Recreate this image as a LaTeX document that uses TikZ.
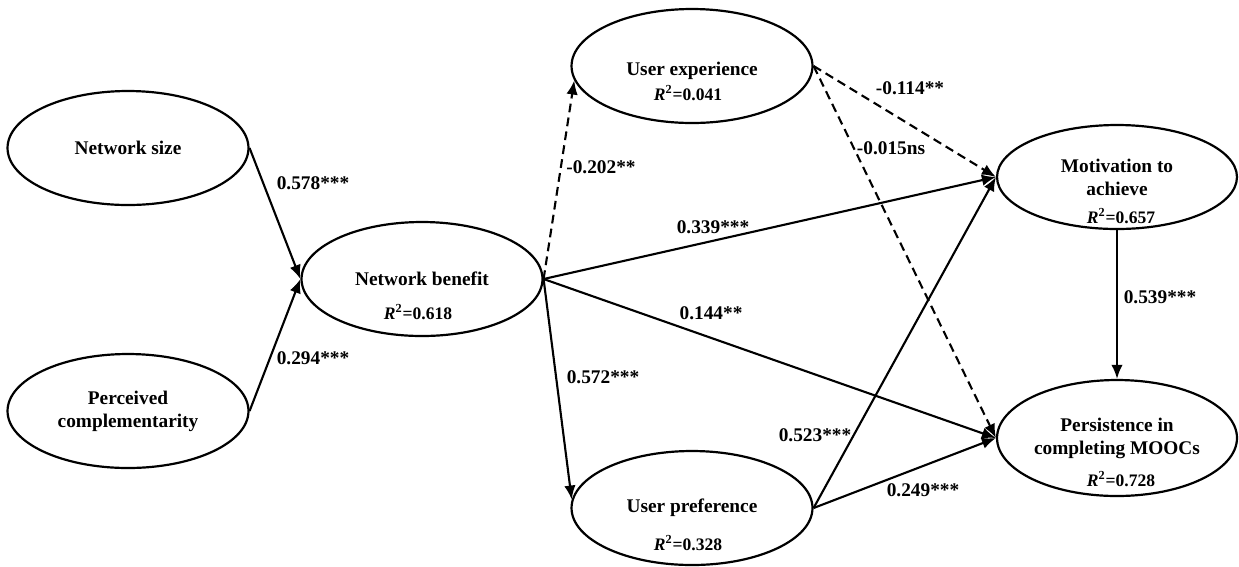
\documentclass[tikz,border=0pt]{standalone}
\usepackage{fontspec}
\setmainfont{Liberation Serif}
\usepackage{tikz}
\usetikzlibrary{shapes}
\usetikzlibrary{arrows.meta}

\newcommand{\rsquare}[1]{\textit{R}\textsuperscript{2}=#1}

\begin{document}
\begin{tikzpicture}[x=0.02cm,y=-0.02cm,
  construct/.style={draw, ellipse, line width=1.25pt, inner sep=0pt,
    minimum width=4.82cm, minimum height=2.28cm, align=center,
    font=\bfseries\fontsize{11}{13}\selectfont},
  rsq/.style={inner sep=0pt, font=\bfseries\fontsize{10}{12}\selectfont},
  coef/.style={inner sep=0pt, font=\bfseries\fontsize{11}{13}\selectfont},
  link/.style={line width=1.2pt, -{Latex[length=8pt,width=6.5pt]}},
  dashlink/.style={link, dash pattern=on 5pt off 3pt}]
\useasboundingbox (0,0) rectangle (1239,566);
% constructs
\node [construct] (size) at (128,148) {Network size};
\node [construct] (compl) at (128,411) {Perceived\\complementarity};
\node [construct] (benefit) at (422,279) {Network benefit};
\node [rsq] (benefit-r) at (418,312) {\rsquare{0.618}};
\node [construct] (exper) at (692,66) {\rule{0pt}{13pt}User experience};
\node [rsq] (exper-r) at (688,93) {\rsquare{0.041}};
\node [construct] (pref) at (692,508) {User preference};
\node [rsq] (pref-r) at (688,543) {\rsquare{0.328}};
\node [construct, minimum width=4.8cm, minimum height=2.08cm] (motiv) at (1117,177)
   {Motivation to\\achieve};
\node [rsq] (motiv-r) at (1121,216) {\rsquare{0.657}};
\node [construct, minimum width=4.8cm, minimum height=2.32cm] (persist) at (1117,438)
   {Persistence in\\completing MOOCs};
\node [rsq] (persist-r) at (1121,479) {\rsquare{0.728}};
% paths
\draw [link] (size.east) -- (benefit.west);
\draw [link] (compl.east) -- (benefit.west);
\draw [dashlink] (benefit.east) -- (exper.187);
\draw [link] (benefit.east) -- (motiv.west);
\draw [link] (benefit.east) -- (persist.west);
\draw [link] (benefit.east) -- (pref.176);
\draw [dashlink] (exper.east) -- (motiv.west);
\draw [dashlink] (exper.east) -- (persist.west);
\draw [link] (pref.east) -- (motiv.west);
\draw [link] (pref.east) -- (persist.west);
\draw [link] (motiv.south) -- (persist.north);
% coefficients
\node [coef] (c-size) at (313,183) {0.578***};
\node [coef] (c-compl) at (313,358) {0.294***};
\node [coef] (c-exper) at (601,167) {-0.202**};
\node [coef] (c-motiv) at (713,227) {0.339***};
\node [coef] (c-persist) at (711,313) {0.144**};
\node [coef] (c-pref) at (603,377) {0.572***};
\node [coef] (c-em) at (910,88) {-0.114**};
\node [coef] (c-ep) at (891,148) {-0.015ns};
\node [coef] (c-pm) at (815,435) {0.523***};
\node [coef] (c-pp) at (923,490) {0.249***};
\node [coef] (c-mp) at (1160,297) {0.539***};
\end{tikzpicture}
\end{document}
